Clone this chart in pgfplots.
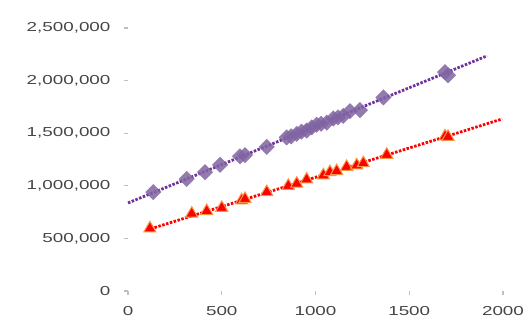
\documentclass[border=0pt]{standalone}
\usepackage{fontspec}
\setmainfont[FakeStretch=1.45]{Liberation Sans}
\usepackage{pgfplots}
\pgfplotsset{compat=1.18}
\definecolor{txtgray}{HTML}{454545}
\definecolor{tickgray}{HTML}{BFBFBF}
\definecolor{purpmark}{HTML}{8064A2}
\definecolor{purpline}{HTML}{7030A0}
\definecolor{orangeedge}{HTML}{F79646}
\begin{document}
\begin{tikzpicture}
\path[use as bounding box] (-128pt,-34pt) rectangle (402pt,291pt);
\begin{axis}[
  at={(0pt,0pt)}, anchor=south west,
  scale only axis, width=375pt, height=263pt,
  xmin=0, xmax=2000, ymin=0, ymax=2500000,
  xtick={0,500,1000,1500,2000},
  xticklabels={0,500,1000,1500,2000},
  ytick={0,500000,1000000,1500000,2000000,2500000},
  yticklabels={0,{500,000},{1,000,000},{1,500,000},{2,000,000},{2,500,000}},
  scaled y ticks=false, scaled x ticks=false,
  axis x line*=bottom, axis y line*=left,
  axis line style={draw=none},
  tick align=outside, major tick length=4pt,
  tick style={tickgray, line width=1.2pt},
  clip=false,
  xticklabel style={font=\fontsize{13}{13}\selectfont, text=txtgray, yshift=-8pt},
  yticklabel style={font=\fontsize{13}{13}\selectfont, text=txtgray, xshift=-10pt},
]
% purple series
\addplot[only marks, mark=square*, mark size=5.5pt, mark options={rotate=45, fill=purpmark, draw=purpmark, fill opacity=0.85, draw opacity=0.6}] coordinates {
(135,940000) (313,1065000) (411,1130000) (491,1200000) (597,1280000) (624,1292000)
(740,1370000) (846,1460000) (870,1470000) (900,1494000) (925,1515000) (953,1525000)
(980,1555000) (1006,1580000) (1030,1590000) (1060,1600000) (1095,1640000) (1120,1650000)
(1148,1665000) (1184,1710000) (1237,1720000) (1362,1840000) (1691,2080000) (1707,2050000)
};
% red series
\addplot[only marks, mark=triangle*, mark size=7pt, mark options={fill=red, draw=orangeedge, line width=1pt}] coordinates {
(117,595000) (340,735000) (420,760000) (500,790000) (606,862000) (624,875000)
(740,940000) (855,1000000) (900,1020000) (953,1060000) (1042,1100000) (1077,1130000)
(1113,1140000) (1166,1180000) (1220,1195000) (1255,1215000) (1380,1295000) (1691,1470000)
(1707,1465000)
};
% trendlines
\addplot[purpline, line width=2.8pt, dash pattern=on 2.5pt off 1.5pt] coordinates {(0,837000) (1915,2235000)};
\addplot[red, line width=2.8pt, dash pattern=on 2.5pt off 1.5pt] coordinates {(101,580000) (1995,1635000)};
\end{axis}
\end{tikzpicture}
\end{document}
